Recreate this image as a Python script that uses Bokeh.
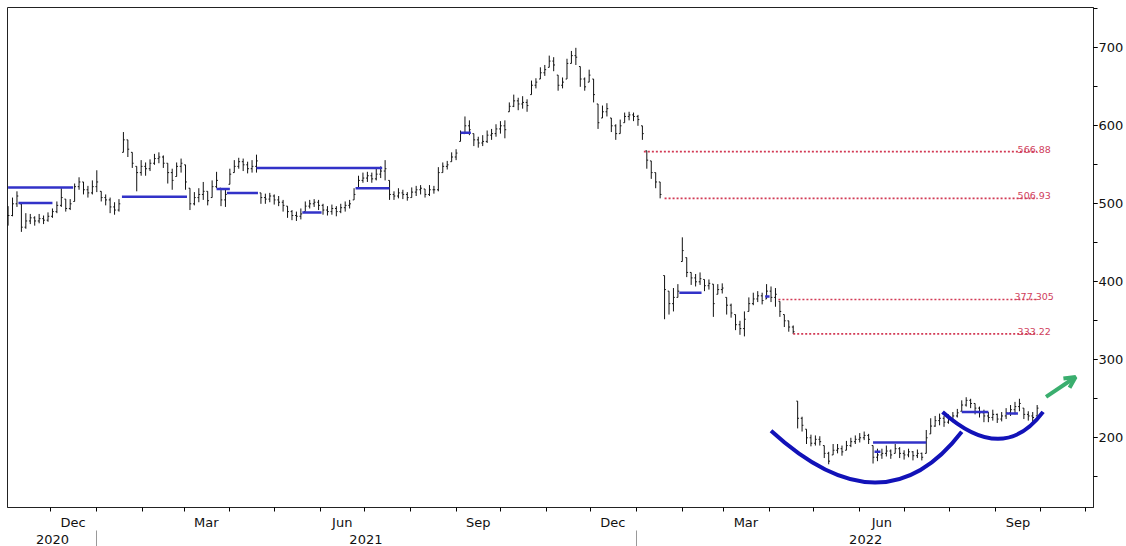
import pandas as pd
from bokeh.plotting import figure
from bokeh.models import LinearAxis, FixedTicker, SingleIntervalTicker, Range1d, Arrow, OpenHead
from bokeh.core.properties import value
from bokeh.embed import file_html
from bokeh.resources import INLINE

# ---------------- data ----------------
first_bar = "2020-11-02"
bar_step_days = 3

close = [485, 500, 510, 470, 478, 482, 478, 481, 479, 484,
         490, 498, 508, 494, 500, 522, 528, 518, 514, 522,
         528, 508, 505, 496, 492, 500, 582, 570, 552, 540,
         548, 545, 552, 558, 560, 552, 540, 530, 548, 552,
         528, 500, 508, 512, 516, 504, 522, 530, 505, 512,
         538, 548, 554, 550, 545, 548, 555, 508, 506, 510,
         505, 502, 498, 490, 485, 484, 487, 497, 500, 502,
         498, 492, 490, 494, 490, 495, 498, 500, 512, 530,
         533, 536, 532, 538, 542, 545, 512, 510, 514, 512,
         508, 515, 518, 520, 512, 518, 518, 540, 548, 550,
         560, 565, 590, 600, 595, 582, 578, 580, 588, 590,
         596, 600, 595, 625, 632, 628, 630, 626, 652, 656,
         668, 672, 683, 678, 652, 656, 680, 690, 688, 660,
         650, 665, 640, 604, 618, 622, 600, 590, 600, 612,
         614, 612, 608, 590, 556, 540, 528, 512, 390, 372,
         380, 388, 440, 412, 405, 400, 404, 395, 398, 372,
         390, 392, 370, 360, 345, 340, 352, 372, 378, 382,
         376, 388, 380, 384, 362, 350, 342, 336, 225, 216,
         200, 193, 198, 195, 180, 170, 184, 186, 182, 190,
         195, 198, 200, 203, 198, 175, 178, 180, 183, 178,
         186, 180, 178, 182, 177, 180, 175, 200, 215, 222,
         225, 220, 224, 228, 232, 242, 248, 244, 238, 232,
         228, 226, 230, 224, 228, 232, 236, 240, 244, 230,
         228, 226, 238]

high = [497, 508, 516, 500, 488, 487, 484, 487, 485, 489,
        494, 503, 520, 506, 506, 526, 534, 528, 523, 530,
        543, 516, 512, 508, 502, 506, 592, 582, 566, 548,
        556, 553, 557, 564, 566, 562, 552, 545, 553, 558,
        550, 520, 515, 520, 528, 516, 530, 541, 520, 518,
        545, 556, 559, 558, 554, 556, 563, 514, 513, 514,
        512, 510, 505, 497, 492, 490, 494, 503, 505, 506,
        505, 500, 497, 499, 497, 500, 503, 505, 520, 536,
        540, 541, 540, 545, 548, 556, 530, 516, 520, 518,
        515, 521, 523, 524, 519, 524, 523, 547, 553, 555,
        566, 570, 594, 612, 607, 590, 586, 588, 594, 596,
        602, 606, 607, 630, 640, 636, 638, 634, 658, 661,
        675, 678, 690, 688, 665, 662, 686, 696, 700, 676,
        662, 672, 660, 628, 626, 629, 610, 602, 608, 617,
        618, 617, 614, 600, 568, 555, 540, 528, 408, 388,
        392, 397, 457, 431, 412, 410, 412, 403, 403, 397,
        397, 398, 380, 372, 358, 350, 362, 380, 386, 388,
        386, 397, 394, 392, 375, 358, 350, 344, 247, 227,
        211, 204, 203, 202, 190, 182, 192, 192, 190, 196,
        200, 203, 206, 208, 205, 190, 186, 186, 190, 185,
        192, 188, 184, 186, 183, 185, 181, 210, 225, 228,
        231, 228, 230, 233, 237, 248, 252, 250, 244, 240,
        236, 233, 236, 231, 233, 238, 242, 246, 250, 238,
        234, 233, 242]

low = [472, 484, 496, 464, 468, 474, 472, 475, 474, 477,
       482, 488, 496, 490, 492, 503, 518, 512, 508, 512,
       515, 503, 498, 488, 486, 490, 566, 560, 546, 516,
       536, 536, 542, 550, 552, 546, 526, 518, 535, 540,
       518, 492, 498, 502, 505, 498, 508, 520, 497, 496,
       525, 540, 545, 542, 539, 540, 540, 500, 500, 502,
       499, 497, 490, 482, 479, 478, 480, 490, 494, 496,
       492, 486, 485, 486, 484, 488, 490, 494, 505, 520,
       527, 528, 527, 530, 533, 530, 505, 505, 507, 506,
       504, 508, 510, 512, 508, 510, 513, 516, 540, 544,
       554, 556, 580, 590, 588, 574, 572, 574, 578, 582,
       586, 590, 584, 618, 624, 620, 622, 618, 640, 648,
       660, 664, 675, 670, 645, 648, 660, 680, 678, 650,
       645, 656, 630, 596, 610, 612, 592, 582, 590, 604,
       607, 606, 600, 582, 545, 532, 520, 507, 352, 358,
       362, 380, 426, 406, 396, 394, 396, 388, 390, 355,
       384, 385, 358, 354, 338, 332, 330, 362, 370, 374,
       371, 378, 374, 368, 355, 342, 336, 333, 212, 208,
       192, 189, 190, 190, 174, 166, 178, 180, 177, 184,
       188, 192, 194, 197, 192, 167, 170, 173, 176, 173,
       180, 174, 172, 175, 171, 174, 171, 180, 205, 214,
       216, 214, 218, 220, 226, 234, 240, 238, 230, 226,
       220, 220, 222, 219, 221, 224, 228, 230, 234, 224,
       222, 220, 228]

# blue horizontal levels
lvl_start = ["2020-11-02", "2020-11-09", "2021-01-18", "2021-03-23", "2021-03-30",
             "2021-04-19", "2021-05-20", "2021-06-25", "2021-09-04", "2022-01-30",
             "2022-06-10", "2022-06-11", "2022-08-09", "2022-09-08", "2022-03-29"]
lvl_end = ["2020-12-16", "2020-12-02", "2021-03-03", "2021-04-01", "2021-04-20",
           "2021-07-13", "2021-06-02", "2021-07-18", "2021-09-11", "2022-02-14",
           "2022-07-16", "2022-06-15", "2022-08-27", "2022-09-16", "2022-04-01"]
lvl_value = [521, 501, 509, 519, 514, 546, 489, 520, 591, 386, 194, 182, 233, 231, 381]

# dotted gap levels
gap_start = ["2022-01-06", "2022-01-20", "2022-04-07", "2022-04-17"]
gap_end = "2022-09-29"
gap_value = [566.88, 506.93, 377.305, 333.22]
gap_text = ["566.88", "506.93", "377.305", "333.22"]
gap_label_at = "2022-09-27"

# hand-drawn bowls (start, control, end)
arc_x0 = ["2022-04-02", "2022-07-27"]
arc_y0 = [208.9, 233.2]
arc_cx = ["2022-06-17", "2022-09-06"]
arc_cy = [76.8, 164.2]
arc_x1 = ["2022-08-09", "2022-10-03"]
arc_y1 = [207.7, 233.2]

arrow_from = ("2022-10-05", 252.4)
arrow_to = ("2022-10-25", 277.9)

month_labels = ["2020-12", "2021-03", "2021-06", "2021-09", "2021-12", "2022-03", "2022-06", "2022-09"]
years = [2020, 2021, 2022]

# ---------------- helpers ----------------
ORIGIN = pd.Timestamp("2021-01-01")


def to_day(s):
    return (pd.Timestamp(s) - ORIGIN) / pd.Timedelta(days=1)


X_LO, X_HI = to_day("2020-11-01") + 0.6, to_day("2022-11-06") + 0.1
Y_LO, Y_HI = 110.6, 751.7

dates = pd.date_range(first_bar, periods=len(close), freq=f"{bar_step_days}D")
xd = [to_day(d) for d in dates]
opens = [close[0]] + close[:-1]
opens = [min(max(o, l), h) for o, l, h in zip(opens, low, high)]

FONT = "DejaVu Sans"

p = figure(width=1126, height=546, output_backend="svg", toolbar_location=None,
           x_range=Range1d(X_LO, X_HI), y_range=Range1d(Y_LO, Y_HI),
           x_axis_location=None, y_axis_location="right",
           min_border_left=7, min_border_top=7, min_border_right=0, min_border_bottom=0)
p.grid.visible = False
p.outline_line_color = "#222222"
p.outline_line_width = 1
p.background_fill_color = "white"
p.border_fill_color = "white"

# OHLC bars
tick = 0.9
p.segment(x0=xd, y0=low, x1=xd, y1=high, line_color="#111111", line_width=1)
p.segment(x0=[x - tick for x in xd], y0=opens, x1=xd, y1=opens, line_color="#111111", line_width=1)
p.segment(x0=xd, y0=close, x1=[x + tick for x in xd], y1=close, line_color="#111111", line_width=1)

# blue levels
p.segment(x0=[to_day(s) for s in lvl_start], y0=lvl_value,
          x1=[to_day(s) for s in lvl_end], y1=lvl_value,
          line_color="#3232c8", line_width=2.5)

# dotted gap levels
p.segment(x0=[to_day(s) for s in gap_start], y0=gap_value,
          x1=[to_day(gap_end)] * len(gap_value), y1=gap_value,
          line_color="#d23a55", line_width=1.6, line_dash="2 2")
p.text(x=[to_day(gap_label_at)] * len(gap_value), y=gap_value, text=gap_text,
       text_font=value(FONT), text_font_size="9.5px", text_color="#d0405c",
       text_align="center", text_baseline="bottom", y_offset=1)

# bowls
p.quadratic(x0=[to_day(s) for s in arc_x0], y0=arc_y0,
            x1=[to_day(s) for s in arc_x1], y1=arc_y1,
            cx=[to_day(s) for s in arc_cx], cy=arc_cy,
            line_color="#1212b8", line_width=4)

# green arrow
green = "#3aae6e"
p.add_layout(Arrow(end=OpenHead(size=11, line_width=4, line_color=green),
                   x_start=to_day(arrow_from[0]), y_start=arrow_from[1],
                   x_end=to_day(arrow_to[0]), y_end=arrow_to[1],
                   line_color=green, line_width=4))

# right axis
ya = p.yaxis[0]
ya.ticker = SingleIntervalTicker(interval=100, num_minor_ticks=2)
ya.major_label_text_font = FONT
ya.major_label_text_font_size = "13px"
ya.major_label_text_color = "#111111"
ya.major_tick_out = 4
ya.major_tick_in = 0
ya.minor_tick_out = 4
ya.minor_tick_in = 0
ya.major_label_standoff = 1
ya.axis_line_color = "#222222"

# month axis
month_starts = pd.date_range("2020-11-01", "2022-12-01", freq="MS")
minor_month = [int(round(to_day(m))) for m in month_starts]
mid_ticks = []
mid_over = {}
for m in month_labels:
    t = int(round(to_day(m + "-01"))) + 15
    mid_ticks.append(t)
    mid_over[t] = pd.Timestamp(m + "-01").strftime("%b")

ax1 = LinearAxis(ticker=FixedTicker(ticks=mid_ticks, minor_ticks=minor_month),
                 major_label_overrides=mid_over,
                 major_tick_out=0, major_tick_in=0, minor_tick_out=4, minor_tick_in=0,
                 major_label_standoff=3, axis_line_color="#222222",
                 major_label_text_font=FONT, major_label_text_font_size="13px",
                 major_label_text_color="#111111")
p.add_layout(ax1, "below")

# year axis
year_ticks = []
year_over = {}
year_bounds = []
for y in years:
    lo = max(to_day(f"{y}-01-01"), X_LO)
    hi = min(to_day(f"{y + 1}-01-01"), X_HI)
    c = int(round((lo + hi) / 2))
    year_ticks.append(c)
    year_over[c] = str(y)
    if y > years[0]:
        year_bounds.append(int(round(to_day(f"{y}-01-01"))))

ax2 = LinearAxis(ticker=FixedTicker(ticks=year_ticks, minor_ticks=year_bounds),
                 major_label_overrides=year_over,
                 major_tick_out=0, major_tick_in=0, minor_tick_out=20, minor_tick_in=2,
                 minor_tick_line_color="#999999",
                 major_label_standoff=-18, axis_line_color=None,
                 major_label_text_font=FONT, major_label_text_font_size="13px",
                 major_label_text_color="#111111")
p.add_layout(ax2, "below")

open("out.html", "w").write(file_html(p, INLINE))
